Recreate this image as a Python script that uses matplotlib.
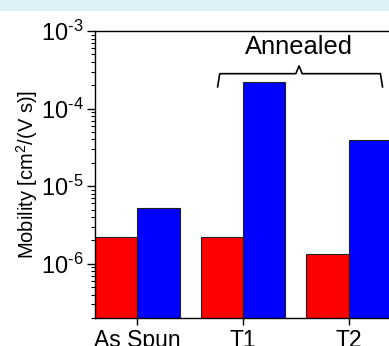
import numpy as np
import matplotlib
matplotlib.use('Agg')
import matplotlib.pyplot as plt
from matplotlib.patches import Rectangle
from matplotlib.ticker import FuncFormatter

plt.rcParams['font.family'] = ['Liberation Sans', 'DejaVu Sans']
plt.rcParams['mathtext.fontset'] = 'custom'
plt.rcParams['mathtext.rm'] = 'Liberation Sans'
plt.rcParams['mathtext.it'] = 'Liberation Sans:italic'
plt.rcParams['mathtext.bf'] = 'Liberation Sans:bold'

# data
groups = ['As Spun', 'T1', 'T2']
red_vals = [2.2e-6, 2.2e-6, 1.32e-6]
blue_vals = [5.2e-6, 2.2e-4, 3.9e-5]

fig = plt.figure(figsize=(3.89, 3.46), dpi=100)
# light blue band at the top of the cropped figure
fig.patches.append(Rectangle((0, 1 - 11/346), 1, 11/346, transform=fig.transFigure,
                             facecolor='#ddf0f8', edgecolor='none', zorder=0))

ax = fig.add_axes([95/389, 1 - 318/346, 296/389, (318 - 31)/346])

x = np.arange(len(groups))
w = 0.4
ax.bar(x - w/2, red_vals, w, color='#ff0000', edgecolor='#222222', linewidth=0.8)
ax.bar(x + w/2, blue_vals, w, color='#0000ff', edgecolor='#222222', linewidth=0.8)

ax.set_yscale('log')
ax.set_ylim(2e-7, 1e-3)
ax.set_xlim(-0.4, 2.4)
ax.set_xticks(x)
ax.set_xticklabels(groups, fontsize=16.5)


def exp_label(v, pos):
    n = int(round(np.log10(v)))
    return r'$10^{\text{-}%d}$' % (-n)


ax.yaxis.set_major_formatter(FuncFormatter(exp_label))
ax.tick_params(axis='x', direction='out', length=5, width=1, pad=3)
ax.tick_params(axis='y', which='major', direction='out', length=6, width=1, labelsize=17, pad=2)
ax.tick_params(axis='y', which='minor', direction='out', length=3, width=0.8)
ax.spines['right'].set_visible(False)
for s in ['left', 'top', 'bottom']:
    ax.spines[s].set_linewidth(1)

ax.set_ylabel('Mobility [cm$^2$/(V s)]', fontsize=14.5, labelpad=1)

# bracket for the annealed samples
xl, xr, xm = 0.76, 2.32, 1.53
yb, ym, yt = 10**-3.72, 10**-3.55, 10**-3.45
bx = [xl, xl + 0.02, xm - 0.03, xm, xm + 0.03, xr - 0.02, xr]
by = [yb, ym, ym, yt, ym, ym, yb]
ax.plot(bx, by, color='black', linewidth=1.2, clip_on=False)
ax.text(xm, 10**-3.21, 'Annealed', ha='center', va='center', fontsize=18.4)

fig.savefig('out.png', dpi=100)
